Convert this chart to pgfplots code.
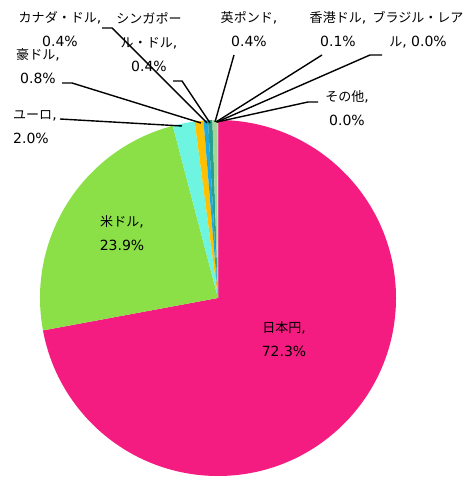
\documentclass[border=0pt]{standalone}
\usepackage{pgfplots}
\usepackage{pgfplotstable}
\pgfplotsset{compat=1.18}
\usepackage{fontspec}
\setmainfont{DejaVu Sans}
\newfontfamily\cjk[Scale=0.93]{Noto Sans CJK JP}
\definecolor{pie0}{HTML}{F41C80}
\definecolor{pie1}{HTML}{8BE048}
\definecolor{pie2}{HTML}{6EF5E1}
\definecolor{pie3}{HTML}{FFC000}
\definecolor{pie4}{HTML}{1EAAE1}
\definecolor{pie5}{HTML}{28A08C}
\definecolor{pie6}{HTML}{A0D796}
\definecolor{pie7}{HTML}{E6C8BE}
\definecolor{pie8}{HTML}{C896C8}
\definecolor{pie9}{HTML}{D0D0D0}
\pgfplotstableread[col sep=comma]{
name,value
JPY,72.3
USD,23.9
EUR,2.0
AUD,0.8
CAD,0.4
SGD,0.4
GBP,0.4
HKD,0.1
BRL,0.0
OTH,0.0
}\piedata
\begin{document}
\begin{tikzpicture}
\begin{axis}[
  x=1pt, y=1pt,
  xmin=0, xmax=466, ymin=0, ymax=478,
  hide axis, clip=false,
  scale only axis,
]
\path (axis cs:0,0) rectangle (axis cs:466,478);
\pgfplotstablegetrowsof{\piedata}
\pgfmathtruncatemacro\N{\pgfplotsretval-1}
\def\total{0}
\pgfplotsforeachungrouped \i in {0,...,\N}{%
  \pgfplotstablegetelem{\i}{value}\of\piedata
  \pgfmathsetmacro\total{\total+\pgfplotsretval}%
}
\def\cum{0}
\pgfplotsforeachungrouped \i in {0,...,\N}{%
  \pgfplotstablegetelem{\i}{value}\of\piedata
  \pgfmathsetmacro\a{90-360*(\cum/\total)}%
  \pgfmathsetmacro\cum{\cum+\pgfplotsretval}%
  \pgfmathsetmacro\b{90-360*(\cum/\total)}%
  \pgfmathsetmacro\px{218+178*cos(\a)}%
  \pgfmathsetmacro\py{180+178*sin(\a)}%
  \edef\temp{\noexpand\fill[pie\i] (axis cs:218,180) -- (axis cs:\px,\py) arc[start angle=\a, end angle=\b, radius=178pt] -- cycle;}%
  \temp
}
% leader lines
\tikzset{lead/.style={line width=1.4pt, line join=miter}}
\draw[lead] (axis cs:60,359) -- (axis cs:182,352);
\draw[lead] (axis cs:62,395) -- (axis cs:72,395) -- (axis cs:201,355);
\draw[lead] (axis cs:102,450) -- (axis cs:112,450) -- (axis cs:207,355);
\draw[lead] (axis cs:173,397) -- (axis cs:182,397) -- (axis cs:210,355);
\draw[lead] (axis cs:234,423) -- (axis cs:215,356);
\draw[lead] (axis cs:322,423) -- (axis cs:216,356);
\draw[lead] (axis cs:382,423) -- (axis cs:370,423) -- (axis cs:217,356);
\draw[lead] (axis cs:318,376) -- (axis cs:308,376) -- (axis cs:217,356);
% labels
\tikzset{lab/.style={align=center, inner sep=0pt, font=\fontsize{14}{24}\selectfont}}
\node[lab] at (axis cs:284,138.5) {{\cjk 日本円},\\72.3\%};
\node[lab] at (axis cs:122,244.5) {{\cjk 米ドル},\\23.9\%};
\node[lab, align=left, anchor=west] at (axis cs:13,351) {{\cjk ユーロ},\\2.0\%};
\node[lab] at (axis cs:38,412) {{\cjk 豪ドル},\\0.8\%};
\node[lab] at (axis cs:60,449) {{\cjk カナダ・ドル},\\0.4\%};
\node[lab] at (axis cs:149,436) {{\cjk シンガポー}\\{\cjk ル・ドル},\\0.4\%};
\node[lab] at (axis cs:249,448.5) {{\cjk 英ポンド},\\0.4\%};
\node[lab] at (axis cs:338,448.5) {{\cjk 香港ドル},\\0.1\%};
\node[lab] at (axis cs:418,448) {{\cjk ブラジル・レア}\\{\cjk ル}, 0.0\%};
\node[lab] at (axis cs:347,369.5) {{\cjk その他},\\0.0\%};
\end{axis}
\end{tikzpicture}
\end{document}
